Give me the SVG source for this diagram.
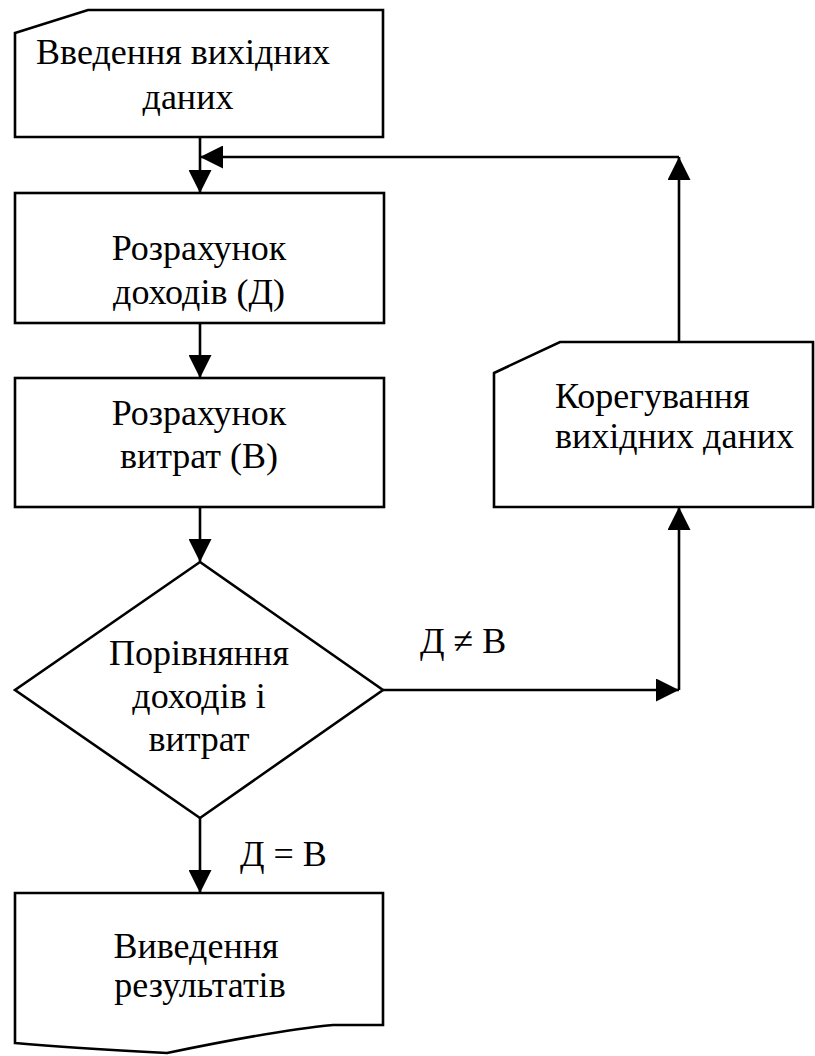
<svg xmlns="http://www.w3.org/2000/svg" width="815" height="1056" viewBox="0 0 815 1056">
<style>
.shape{fill:#fff;stroke:#000;stroke-width:2.6;stroke-linejoin:miter}
.conn{fill:none;stroke:#000;stroke-width:2.6}
.c{text-anchor:middle}
</style>
<defs>
<marker id="arr" markerUnits="userSpaceOnUse" markerWidth="23" markerHeight="23" refX="23" refY="11.5" orient="auto">
<path d="M0,0 L23,11.5 L0,23 Z" fill="#000"/>
</marker>
</defs>
<rect width="815" height="1056" fill="#fff"/>
<g id="connectors">
<path class="conn" d="M200,137 V193" marker-end="url(#arr)"/>
<path class="conn" d="M679,342 V157" marker-end="url(#arr)"/>
<path class="conn" d="M679,157 H200" marker-end="url(#arr)"/>
<path class="conn" d="M200,323 V378" marker-end="url(#arr)"/>
<path class="conn" d="M200,507 V562" marker-end="url(#arr)"/>
<path class="conn" d="M200,818 V893" marker-end="url(#arr)"/>
<path class="conn" d="M383,690 H679" marker-end="url(#arr)"/>
<path class="conn" d="M679,690 V507" marker-end="url(#arr)"/>
</g>
<g font-family="Liberation Serif" font-size="36" fill="#000">
<g id="input">
<path class="shape" d="M15,33 L88,10 H383 V137 H15 Z"/>
<text class="c" x="183" y="64" fill="#000">Введення вихідних</text>
<text class="c" x="188" y="109" fill="#000">даних</text>
</g>
<g id="calc-income">
<rect class="shape" x="15" y="193" width="369" height="130"/>
<text class="c" x="199" y="260" fill="#000">Розрахунок</text>
<text class="c" x="199" y="304" fill="#000">доходів (Д)</text>
</g>
<g id="calc-costs">
<rect class="shape" x="15" y="378" width="369" height="129"/>
<text class="c" x="199" y="425" fill="#000">Розрахунок</text>
<text class="c" x="199" y="468" fill="#000">витрат (В)</text>
</g>
<g id="compare">
<path class="shape" d="M200,562 L383,690 L200,818 L15,690 Z"/>
<text class="c" x="199" y="665" fill="#000">Порівняння</text>
<text class="c" x="199" y="708" fill="#000">доходів і</text>
<text class="c" x="199" y="751" fill="#000">витрат</text>
</g>
<g id="correct">
<path class="shape" d="M494,373 L560,342 H813 V507 H494 Z"/>
<text x="555" y="408" fill="#000">Корегування</text>
<text x="555" y="448" fill="#000">вихідних даних</text>
</g>
<g id="output">
<path class="shape" d="M15,893 H383 V1025 H333 C280,1030 220,1042 167,1053 C110,1050 60,1047 15,1043 Z"/>
<text class="c" x="196" y="958" fill="#000">Виведення</text>
<text class="c" x="200" y="997" fill="#000">результатів</text>
</g>
<g id="labels">
<text x="420" y="653" fill="#000">Д ≠ В</text>
<text x="240" y="866" fill="#000">Д = В</text>
</g>
</g>
</svg>
